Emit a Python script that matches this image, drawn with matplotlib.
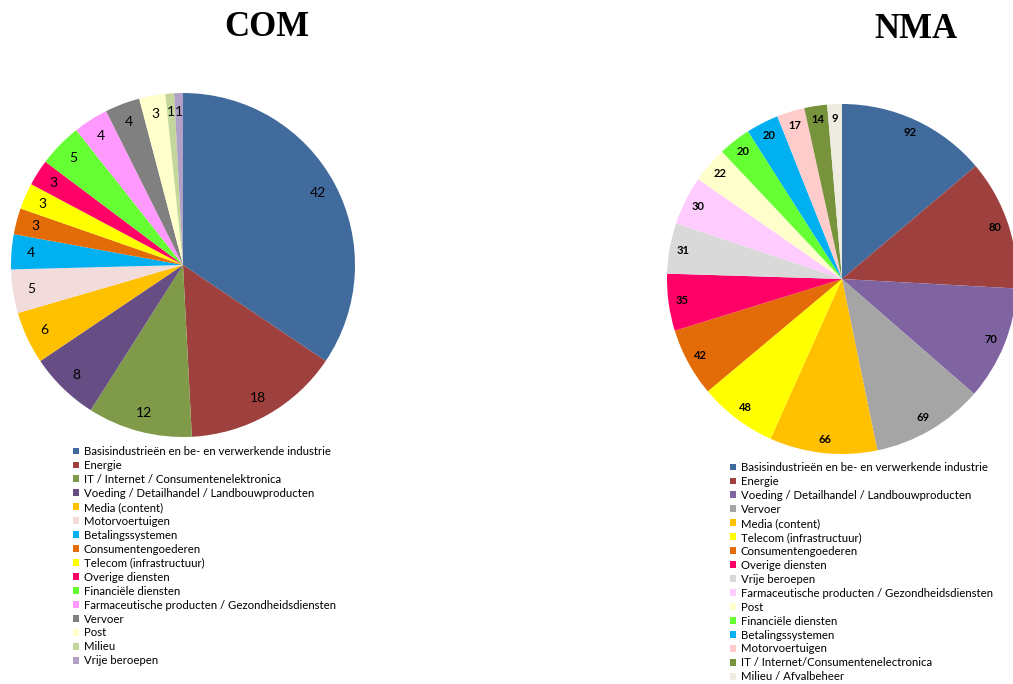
import numpy as np
import matplotlib.pyplot as plt

# COM data (clockwise from 12 o'clock)
com_labels = [
    'Basisindustrieën en be- en verwerkende industrie',
    'Energie',
    'IT / Internet / Consumentenelektronica',
    'Voeding / Detailhandel / Landbouwproducten',
    'Media (content)',
    'Motorvoertuigen',
    'Betalingssystemen',
    'Consumentengoederen',
    'Telecom (infrastructuur)',
    'Overige diensten',
    'Financiële diensten',
    'Farmaceutische producten / Gezondheidsdiensten',
    'Vervoer',
    'Post',
    'Milieu',
    'Vrije beroepen',
]
com_values = [42, 18, 12, 8, 6, 5, 4, 3, 3, 3, 5, 4, 4, 3, 1, 1]
com_colors = ['#416B9C', '#9E413E', '#7F9A48', '#664E84', '#FFC000', '#F2DCDB',
              '#00B0F0', '#E36C09', '#FFFF00', '#FF0066', '#66FF33', '#FF99FF',
              '#808080', '#FFFFCC', '#C4D79B', '#B2A1C7']

# NMA data
nma_labels = [
    'Basisindustrieën en be- en verwerkende industrie',
    'Energie',
    'Voeding / Detailhandel / Landbouwproducten',
    'Vervoer',
    'Media (content)',
    'Telecom (infrastructuur)',
    'Consumentengoederen',
    'Overige diensten',
    'Vrije beroepen',
    'Farmaceutische producten / Gezondheidsdiensten',
    'Post',
    'Financiële diensten',
    'Betalingssystemen',
    'Motorvoertuigen',
    'IT / Internet/Consumentenelectronica',
    'Milieu / Afvalbeheer',
]
nma_values = [92, 80, 70, 69, 66, 48, 42, 35, 31, 30, 22, 20, 20, 17, 14, 9]
nma_colors = ['#416B9C', '#9E413E', '#8064A2', '#A5A5A5', '#FFC000', '#FFFF00',
              '#E36C09', '#FF0066', '#D9D9D9', '#FFCCFF', '#FFFFCC', '#66FF33',
              '#00B0F0', '#FFCCCC', '#77933C', '#EEECE1']

W, H = 1013, 684
fig = plt.figure(figsize=(W / 100, H / 100), dpi=100)


def px_axes(cx, cy, r):
    # axes box in figure fraction from pixel centre / radius
    return fig.add_axes([(cx - r) / W, (H - cy - r) / H, 2 * r / W, 2 * r / H])


def draw_pie(ax, values, colors, dist, fsize, weight):
    wedges, _ = ax.pie(values, colors=colors, startangle=90, counterclock=False,
                       wedgeprops=dict(linewidth=0))
    for w, v in zip(wedges, values):
        ang = np.deg2rad((w.theta1 + w.theta2) / 2)
        ax.text(dist * np.cos(ang), dist * np.sin(ang), str(v), ha='center', va='center',
                fontsize=fsize, fontweight=weight, family='Lato', color='black')
    ax.set_xlim(-1, 1)
    ax.set_ylim(-1, 1)
    ax.set_aspect('equal')
    ax.axis('off')
    return wedges


ax1 = px_axes(183, 265, 172)
w1 = draw_pie(ax1, com_values, com_colors, 0.89, 10, 'normal')

ax2 = px_axes(842, 279, 175)
w2 = draw_pie(ax2, nma_values, nma_colors, 0.92, 8, 'bold')

fig.text(267 / W, 1 - 27 / H, 'COM', ha='center', va='center', fontsize=25,
         fontweight='bold', family='Liberation Serif')
fig.text(916 / W, 1 - 29 / H, 'NMA', ha='center', va='center', fontsize=25,
         fontweight='bold', family='Liberation Serif')

leg_kw = dict(loc='upper left', frameon=False, handlelength=0.55,
              handleheight=0.55, handletextpad=0.4, labelspacing=0.26,
              borderaxespad=0, borderpad=0, prop={'family': 'Lato', 'size': 8.2})
fig.legend(w1, com_labels, bbox_to_anchor=(73 / W, 1 - 446 / H), **leg_kw)
fig.legend(w2, nma_labels, bbox_to_anchor=(730 / W, 1 - 462 / H), **leg_kw)

fig.savefig('out.png', dpi=100)
